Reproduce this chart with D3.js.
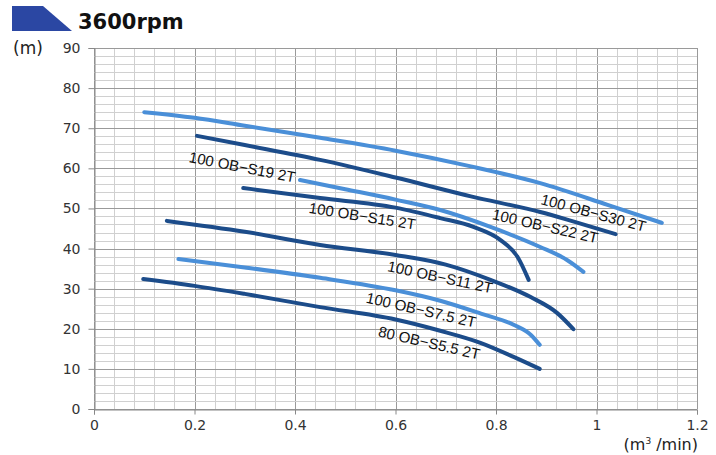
<!DOCTYPE html>
<html><head><meta charset="utf-8">
<script src="https://cdn.jsdelivr.net/npm/d3@7"></script>
<style>body{margin:0;background:#fff}svg{display:block}</style>
</head><body>
<script>
// ---- data ----
const title = "3600rpm";
const xTicks = [0, 0.2, 0.4, 0.6, 0.8, 1, 1.2];
const yTicks = [0, 10, 20, 30, 40, 50, 60, 70, 80, 90];
const seriesNames = ["100 OB\u2212S30 2T","100 OB\u2212S22 2T","100 OB\u2212S19 2T","100 OB\u2212S15 2T","100 OB\u2212S11 2T","100 OB\u2212S7.5 2T","80 OB\u2212S5.5 2T"];
const s30 = [[0.1,74.0],[0.2,72.6],[0.3,70.6],[0.45,67.6],[0.6,64.4],[0.75,60.5],[0.888,56.3],[1.022,50.9],[1.13,46.4]];
const s22 = [[0.205,68.1],[0.3,65.8],[0.45,62.1],[0.6,57.7],[0.75,53.0],[0.888,49.1],[0.95,46.9],[1.038,43.6]];
const s19 = [[0.41,57.1],[0.5,54.8],[0.6,52.2],[0.689,49.6],[0.789,45.4],[0.888,40.4],[0.942,37.1],[0.974,34.2]];
const s15 = [[0.297,55.1],[0.45,52.6],[0.6,50.2],[0.689,47.6],[0.755,45.4],[0.809,42.1],[0.843,37.9],[0.865,32.2]];
const s11 = [[0.145,46.9],[0.3,44.2],[0.45,40.9],[0.6,38.4],[0.7,36.0],[0.789,32.2],[0.869,27.9],[0.922,23.9],[0.954,19.9]];
const s75 = [[0.168,37.4],[0.3,35.3],[0.45,32.7],[0.6,29.6],[0.689,27.0],[0.77,23.8],[0.835,21.0],[0.87,18.4],[0.887,16.0]];
const s55 = [[0.098,32.4],[0.2,30.7],[0.3,28.7],[0.45,25.4],[0.6,22.3],[0.689,19.5],[0.769,16.5],[0.835,13.0],[0.887,10.0]];
const seriesValues = [s30, s22, s19, s15, s11, s75, s55];

// ---- layout / style ----
const W = 716, H = 455;
const dark = "#1c4c8a", light = "#4a8fd8";
const seriesColors = [light, dark, light, dark, dark, light, dark];
// label anchor (data units) and rotation
const labelLayout = [[0.994,48.9,15],[0.898,45.6,13],[0.295,60.3,11],[0.534,48.1,9],[0.689,32.9,12],[0.651,24.7,13],[0.667,16.5,13]];

const x = d3.scaleLinear().domain([0, 1.2]).range([94, 697]);
const y = d3.scaleLinear().domain([0, 90]).range([409, 48]);

const svg = d3.select("body").append("svg").attr("width", W).attr("height", H);
svg.append("rect").attr("width", W).attr("height", H).attr("fill", "#fff");

// grid
const g = svg.append("g");
const xMinor = d3.range(0, 31).map(i => i * 0.04);
const yMinor = d3.range(0, 46).map(i => i * 2);
g.selectAll(".vx").data(xMinor).join("line")
  .attr("x1", d => Math.round(x(d)) + 0.5).attr("x2", d => Math.round(x(d)) + 0.5)
  .attr("y1", y(90)).attr("y2", y(0))
  .attr("stroke", (d, i) => i % 5 === 0 ? "#9a9a9a" : "#d0d0d0").attr("stroke-width", 1);
g.selectAll(".hy").data(yMinor).join("line")
  .attr("y1", d => Math.round(y(d)) + 0.5).attr("y2", d => Math.round(y(d)) + 0.5)
  .attr("x1", x(0)).attr("x2", x(1.2))
  .attr("stroke", (d, i) => i % 5 === 0 ? "#9a9a9a" : "#d0d0d0").attr("stroke-width", 1);

// axes
const font = "'DejaVu Sans', sans-serif";
const yAxis = svg.append("g").attr("transform", `translate(${Math.round(x(0))+0.5},0)`)
  .call(d3.axisLeft(y).tickValues(yTicks).tickSize(6).tickPadding(8).tickFormat(d3.format("d")));
const xAxis = svg.append("g").attr("transform", `translate(0,${Math.round(y(0))+0.5})`)
  .call(d3.axisBottom(x).tickValues(xTicks).tickSize(5).tickPadding(6).tickFormat(d => d === 0 ? "0" : d === 1 ? "1" : d3.format(".1f")(d)));
[yAxis, xAxis].forEach(a => {
  a.select(".domain").attr("stroke", "#888");
  a.selectAll(".tick line").attr("stroke", "#888");
  a.selectAll("text").attr("font-family", font).attr("font-size", 14).attr("fill", "#333");
});

// curves
const line = d3.line().x(d => x(d[0])).y(d => y(d[1])).curve(d3.curveMonotoneX);
svg.append("g").selectAll("path").data(seriesValues).join("path")
  .attr("d", line).attr("fill", "none")
  .attr("stroke", (d, i) => seriesColors[i]).attr("stroke-width", 4)
  .attr("stroke-linecap", "round").attr("stroke-linejoin", "round");

// curve labels
svg.append("g").selectAll("text").data(seriesNames).join("text")
  .attr("transform", (d, i) => `translate(${x(labelLayout[i][0])},${y(labelLayout[i][1])}) rotate(${labelLayout[i][2]})`)
  .attr("text-anchor", "middle").attr("dy", "0.35em")
  .attr("font-family", "'Liberation Sans', Arial, sans-serif").attr("font-size", 15).attr("fill", "#111")
  .text(d => d);

// title
svg.append("polygon").attr("points", "12,6 43,6 72,31 12,31").attr("fill", "#2b47a3");
svg.append("text").attr("x", 78).attr("y", 29).attr("font-family", font).attr("font-weight", "bold")
  .attr("font-size", 21).attr("fill", "#111").text(title);

// axis titles
svg.append("text").attr("x", 13).attr("y", 54).attr("font-family", font).attr("font-size", 17).attr("fill", "#222").text("(m)");
const xt = svg.append("text").attr("x", 698).attr("y", 450).attr("text-anchor", "end")
  .attr("font-family", font).attr("font-size", 16).attr("fill", "#222");
xt.append("tspan").text("(m");
xt.append("tspan").attr("font-size", 9).attr("dy", -6).text("3");
xt.append("tspan").attr("dy", 6).text(" /min)");
</script>
</body></html>
